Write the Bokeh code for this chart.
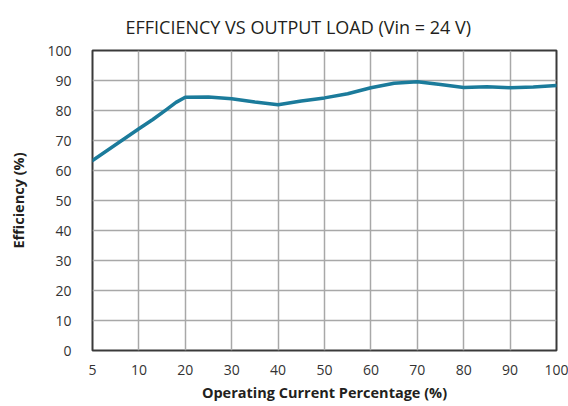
from bokeh.plotting import figure
from bokeh.models import FixedTicker, Range1d, Title
from bokeh.embed import file_html
from bokeh.resources import INLINE
import numpy as np

# tick labels on the x axis (equally spaced on the chart)
x_ticks = [5, 10, 20, 30, 40, 50, 60, 70, 80, 90, 100]
y_ticks = [0, 10, 20, 30, 40, 50, 60, 70, 80, 90, 100]

# efficiency curve
load_pct = [5, 10, 13, 16, 18, 20, 25, 30, 35, 40, 45, 50, 55, 60, 65, 70, 75, 80, 85, 90, 95, 100]
efficiency = [63.3, 73.9, 77.0, 80.4, 82.7, 84.4, 84.5, 83.9, 82.8, 81.9, 83.2, 84.2, 85.6, 87.6, 89.1, 89.6, 88.7, 87.7, 87.9, 87.6, 87.8, 88.3]

# axis scale: tick values are evenly spaced
tick_pos = list(range(len(x_ticks)))
x_pos = np.interp(load_pct, x_ticks, tick_pos)

FONT = "Open Sans"
TXT = "#231f20"

p = figure(width=568, height=406, output_backend="svg", toolbar_location=None,
           x_range=Range1d(0, 10), y_range=Range1d(0, 100),
           min_border_left=92, min_border_right=12, min_border_top=50, min_border_bottom=56)
p.frame_width = 464
p.frame_height = 300

t = Title(text="EFFICIENCY VS OUTPUT LOAD (Vin = 24 V)", align="left",
          text_font=FONT, text_font_size="18px", text_font_style="normal",
          text_color=TXT, offset=33, standoff=24, text_line_height=1.0)
p.title = t

p.line(x_pos, efficiency, line_color="#1b7b9b", line_width=3.5, line_join="round", line_cap="round")

p.xaxis.ticker = FixedTicker(ticks=tick_pos)
p.xaxis.major_label_overrides = {i: str(v) for i, v in enumerate(x_ticks)}
p.yaxis.ticker = FixedTicker(ticks=y_ticks)

for ax in (p.xaxis, p.yaxis):
    ax.axis_line_color = None
    ax.major_tick_line_color = None
    ax.minor_tick_line_color = None
    ax.major_label_text_font = FONT
    ax.major_label_text_font_size = "14px"
    ax.major_label_text_color = "#333333"
    ax.axis_label_text_font = FONT
    ax.axis_label_text_font_size = "14.5px"
    ax.axis_label_text_font_style = "bold"
    ax.axis_label_text_color = TXT

p.xaxis.axis_label = "Operating Current Percentage (%)"
p.yaxis.axis_label = "Efficiency (%)"
p.xaxis.major_label_standoff = 8
p.yaxis.major_label_standoff = 15
p.xaxis.axis_label_standoff = 5
p.yaxis.axis_label_standoff = 16

p.grid.grid_line_color = "#a8a8a8"
p.grid.grid_line_width = 1.5
p.outline_line_color = "#3a3a3a"
p.outline_line_width = 2
p.background_fill_color = "white"
p.border_fill_color = "white"

open("out.html", "w").write(file_html(p, INLINE))
